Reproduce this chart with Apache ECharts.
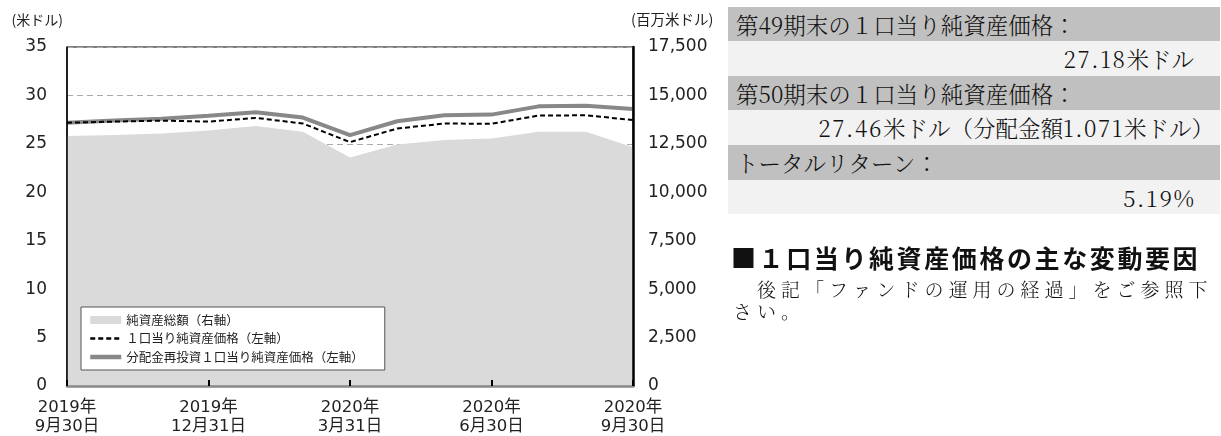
<!DOCTYPE html>
<html>
<head>
<meta charset="utf-8">
<script src="https://cdn.jsdelivr.net/npm/echarts@6/dist/echarts.min.js"></script>
<style>
  html, body { margin: 0; padding: 0; background: #fff; }
  #wrap { position: relative; width: 1221px; height: 436px; overflow: hidden; }
  #chart { position: absolute; left: 0; top: 0; width: 1221px; height: 436px; }
  #panel { position: absolute; left: 728px; top: 6.7px; width: 492px;
           font-family: "Noto Serif CJK JP", "Liberation Serif", "Noto Sans CJK JP", serif; font-weight: 300; color: #111; }
  .row { height: 34.6px; line-height: 34.6px; font-size: 22.5px; box-sizing: border-box; white-space: nowrap; }
  .dark { background: #c0c0c0; padding-left: 8px; }
  .light { background: #f2f2f2; text-align: right; padding-right: 26px; }
  .num { letter-spacing: 1.6px; }
  #head { position: absolute; left: 731px; top: 240px; font-family: "Noto Sans CJK JP", sans-serif;
          font-size: 25px; font-weight: bold; color: #111; letter-spacing: 2.6px; white-space: nowrap; line-height: 34px; }
  #body { position: absolute; left: 733px; top: 278px; width: 492px; font-family: "Noto Serif CJK JP", "Liberation Serif", "Noto Sans CJK JP", serif;
          font-weight: 300; font-size: 19px; color: #111; line-height: 22px; letter-spacing: 5px; white-space: nowrap; }
</style>
</head>
<body>
<div id="wrap">
  <div id="chart"></div>
  <div id="panel">
    <div class="row dark">第49期末の１口当り純資産価格：</div>
    <div class="row light"><span class="num">27.18</span>米ドル</div>
    <div class="row dark">第50期末の１口当り純資産価格：</div>
    <div class="row light" style="padding-right:6px"><span class="num">27.46</span>米ドル（分配金額<span class="num">1.071</span>米ドル）</div>
    <div class="row dark">トータルリターン：</div>
    <div class="row light"><span class="num">5.19</span>%</div>
  </div>
  <div id="head">■１口当り純資産価格の主な変動要因</div>
  <div id="body">　後記「ファンドの運用の経過」をご参照下<br>さい。</div>
</div>
<script>
// ---- data ----
const categories = [
  '2019年\n9月30日', '2019年\n10月31日', '2019年\n11月30日', '2019年\n12月31日',
  '2020年\n1月31日', '2020年\n2月29日', '2020年\n3月31日', '2020年\n4月30日',
  '2020年\n5月31日', '2020年\n6月30日', '2020年\n7月31日', '2020年\n8月31日',
  '2020年\n9月30日'
];
const totalNetAssets = [12900, 12960, 13040, 13190, 13420, 13120, 11800, 12470, 12700, 12780, 13120, 13120, 12330];
const navPerShare = [27.18, 27.3, 27.4, 27.3, 27.68, 27.1, 25.18, 26.58, 27.1, 27.07, 27.92, 27.95, 27.46];
const navReinvested = [27.18, 27.4, 27.58, 27.9, 28.26, 27.71, 25.9, 27.33, 27.95, 28.02, 28.87, 28.94, 28.59];
const leftAxis = { min: 0, max: 35, interval: 5, name: '(米ドル)' };
const rightAxis = { min: 0, max: 17500, interval: 2500, name: '(百万米ドル)' };
const seriesNames = ['純資産総額（右軸）', '１口当り純資産価格（左軸）', '分配金再投資１口当り純資産価格（左軸）'];

const numFont = "'DejaVu Sans', 'Noto Sans CJK JP', sans-serif";
const cjkFont = "'Noto Sans CJK JP', sans-serif";

const chart = echarts.init(document.getElementById('chart'), null, { renderer: 'canvas' });
chart.setOption({
  animation: false,
  grid: { left: 67, right: 588, top: 47, bottom: 48, show: true, borderColor: '#000', borderWidth: 1, backgroundColor: 'transparent' },
  legend: {
    orient: 'vertical',
    left: 81, top: 307,
    padding: [6, 21, 6, 7],
    backgroundColor: '#fff',
    borderColor: '#555', borderWidth: 1,
    itemWidth: 31, itemHeight: 8, itemGap: 4.5,
    textStyle: { fontFamily: cjkFont, fontSize: 12.5, color: '#222', lineHeight: 14 },
    data: [
      { name: seriesNames[0], icon: 'rect' },
      { name: seriesNames[1], itemStyle: { opacity: 0 }, lineStyle: { width: 2.5, type: [5, 3] } },
      { name: seriesNames[2], itemStyle: { opacity: 0 }, lineStyle: { width: 4.5 } }
    ]
  },
  xAxis: {
    type: 'category', data: categories, boundaryGap: false, z: 5,
    axisLine: { show: true, lineStyle: { color: '#888', width: 2.5 } },
    axisTick: { show: true, inside: true, length: 6, interval: 2, lineStyle: { color: '#000', width: 2 } },
    axisLabel: { interval: 2, margin: 12, fontFamily: numFont, fontSize: 16.5, color: '#222', lineHeight: 19 },
    splitLine: { show: false }
  },
  yAxis: [
    {
      type: 'value', min: leftAxis.min, max: leftAxis.max, interval: leftAxis.interval, position: 'left', z: 5,
      name: leftAxis.name, nameLocation: 'end', nameGap: 20,
      nameTextStyle: { fontFamily: cjkFont, fontSize: 14, color: '#222', align: 'right', padding: [0, 4, 0, 0] },
      axisLine: { show: true, lineStyle: { color: '#000', width: 1.5 } },
      axisTick: { show: false },
      axisLabel: { margin: 20, fontFamily: numFont, fontSize: 17, color: '#222' },
      splitLine: { show: false }
    },
    {
      type: 'value', min: rightAxis.min, max: rightAxis.max, interval: rightAxis.interval, position: 'right', z: 5,
      name: rightAxis.name, nameLocation: 'end', nameGap: 20,
      nameTextStyle: { fontFamily: cjkFont, fontSize: 14.5, color: '#222', align: 'left', padding: [0, 0, 0, -2] },
      axisLine: { show: true, lineStyle: { color: '#000', width: 2.5 } },
      axisTick: { show: false },
      axisLabel: { margin: 15, fontFamily: numFont, fontSize: 17, color: '#222',
        formatter: v => v.toLocaleString('en-US') },
      splitLine: { show: false }
    },
    {
      type: 'value', min: leftAxis.min, max: leftAxis.max, interval: leftAxis.interval, position: 'left', z: 0,
      show: true,
      axisLine: { show: false }, axisTick: { show: false }, axisLabel: { show: false },
      splitLine: { show: true, lineStyle: { color: '#aaa', width: 1, type: [6, 4] } }
    }
  ],
  series: [
    {
      name: seriesNames[0], type: 'line', yAxisIndex: 1, data: totalNetAssets, z: 1,
      symbol: 'none', lineStyle: { width: 0, color: '#dadada' }, itemStyle: { color: '#dadada' },
      areaStyle: { color: '#dadada', opacity: 1 }
    },
    {
      name: seriesNames[1], type: 'line', yAxisIndex: 0, data: navPerShare, z: 4,
      symbol: 'none', itemStyle: { color: '#000' },
      lineStyle: { color: '#000', width: 2, type: [5, 3] }
    },
    {
      name: seriesNames[2], type: 'line', yAxisIndex: 0, data: navReinvested, z: 3,
      symbol: 'none', itemStyle: { color: '#888' },
      lineStyle: { color: '#888', width: 4 }
    }
  ]
});
</script>
</body>
</html>
